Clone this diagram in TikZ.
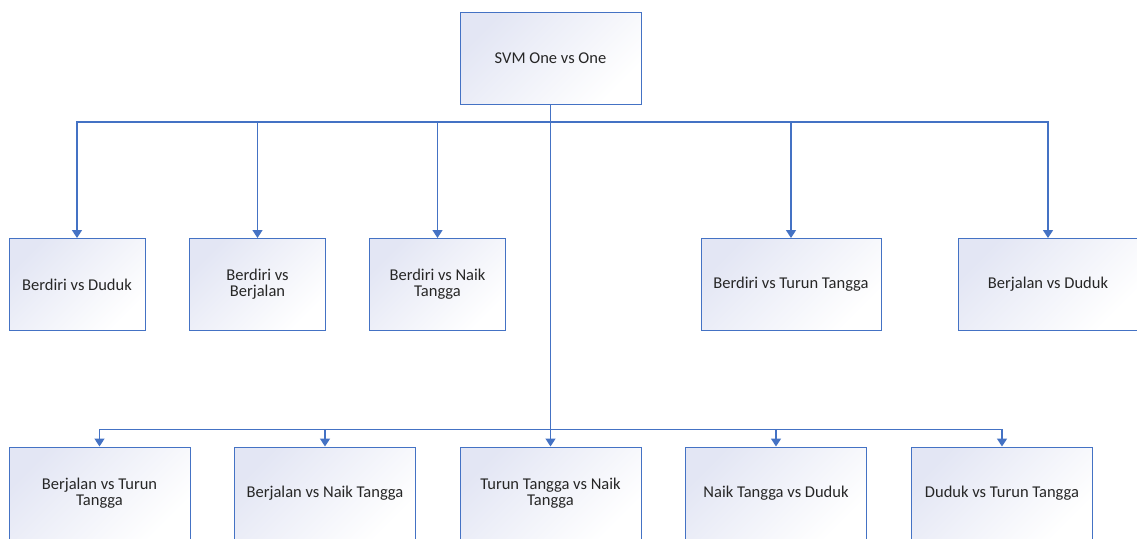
\documentclass[tikz,border=0pt]{standalone}
\usepackage{fontspec}
\setmainfont{Carlito}
\usetikzlibrary{arrows.meta}
\definecolor{lineblue}{HTML}{4472C4}
\definecolor{boxlav}{HTML}{E3E6F4}
\begin{document}
\begin{tikzpicture}[x=1pt,y=-1pt,
  box/.style={draw=lineblue, line width=1pt, top color=boxlav, bottom color=white, shading angle=45,
    minimum height=92pt, align=center, inner sep=2pt,
    font=\fontsize{16.5}{16}\selectfont, text=black!85},
  conn/.style={draw=lineblue, line width=1.6pt},
  arr/.style={conn, -{Triangle[width=10pt,length=8pt]}}]
\useasboundingbox (0,0) rectangle (1137,538);
\clip (0,0) rectangle (1137,538);
% root
\node[box, minimum width=181pt] (root) at (550.5,58) {SVM One vs One};
% row 1
\node[box, minimum width=136pt] (b1) at (77,284.5) {Berdiri vs Duduk};
\node[box, minimum width=136pt] (b2) at (257.5,284.5) {Berdiri vs\\Berjalan};
\node[box, minimum width=136pt] (b3) at (437.5,284.5) {Berdiri vs Naik\\Tangga};
\node[box, minimum width=180pt] (b4) at (791,284.5) {Berdiri vs Turun Tangga};
\node[box, minimum width=180pt] (b5) at (1048,284.5) {Berjalan vs Duduk};
% row 2
\node[box, minimum width=181pt] (c1) at (99.5,493) {Berjalan vs Turun\\Tangga};
\node[box, minimum width=181pt] (c2) at (325,493) {Berjalan vs Naik Tangga};
\node[box, minimum width=181pt] (c3) at (550.5,493) {Turun Tangga vs Naik\\Tangga};
\node[box, minimum width=181pt] (c4) at (776,493) {Naik Tangga vs Duduk};
\node[box, minimum width=181pt] (c5) at (1002,493) {Duduk vs Turun Tangga};
% connectors
\coordinate (j1) at (550.5,122);
\coordinate (j2) at (550.5,429.5);
\draw[conn] (root.south) -- (j2);
\foreach \n in {b1,b2,b3,b4,b5}{\draw[arr] (j1) -| (\n.north);}
\foreach \n in {c1,c2,c4,c5}{\draw[arr] (j2) -| (\n.north);}
\draw[arr] (j2) -- (c3.north);
\end{tikzpicture}
\end{document}
